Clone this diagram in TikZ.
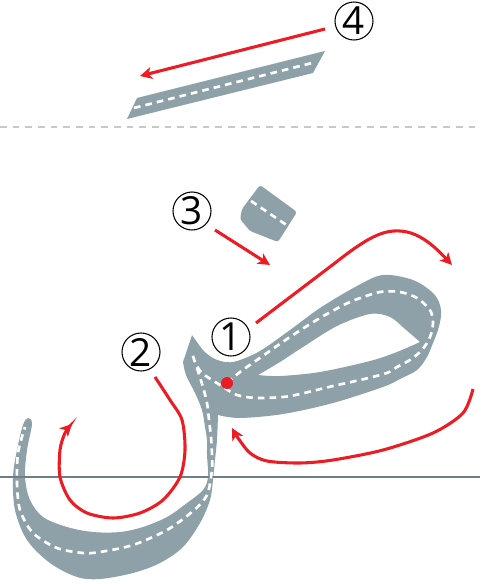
\documentclass[tikz,border=0pt]{standalone}
\usepackage{fontspec}
\setsansfont{Open Sans}
\usetikzlibrary{arrows.meta}
\definecolor{glyph}{HTML}{8FA1A8}
\definecolor{baseln}{HTML}{6E7F87}
\definecolor{lightdash}{HTML}{C8C8C8}
\definecolor{redc}{HTML}{ED1C24}
\begin{document}
\begin{tikzpicture}[x=0.75pt,y=-0.75pt,
  redarrow/.style={draw=redc, line width=2.3pt, -{Stealth[length=9pt,width=9pt,inset=2.5pt]}},
  guide/.style={draw=white, line width=2pt, dash pattern=on 5pt off 3.8pt},
  num/.style={circle, draw=black, line width=0.8pt, minimum size=28.5pt, inner sep=0pt,
    font=\sffamily\fontsize{29}{29}\selectfont}]
\useasboundingbox (0,0) rectangle (480,584);

% guide lines
\draw[lightdash, line width=1.1pt, dash pattern=on 5pt off 4.5pt] (0,127) -- (480,127);

% stroke 4
\fill[glyph] (127,119) -- (137,98) -- (325,51) -- (313,73) -- cycle;
\draw[guide] (134,108) -- (316,62);

% stroke 3
\fill[glyph, rounded corners=2pt] (260,185) -- (297,212) -- (278,242) -- (250,231) -- (240,219) -- (242,209) -- cycle;
\draw[guide] (251,201) -- (288,226);

% main body with hole
\fill[glyph, even odd rule]
 plot[smooth, tension=0.55] coordinates {(192,335) (203,350) (213,358) (225,362) (237,361) (260,351) (290,330) (320,308) (357,286) (383,275) (413,280) (433,293) (440,305) (441,316) (438,330) (433,343) (427,357) (417,370) (400,379) (383,387) (333,403) (283,414) (240,418) (218,415)}
 -- plot[smooth, tension=0.55] coordinates {(218,415) (217,440) (215,460) (213,480) (210,500) (200,523) (183,547) (160,563) (133,573) (100,579) (77,577) (50,563) (27,540) (15,510) (13,477) (17,450) (23,425) (28,418) (32,424) (27,450) (25,477) (30,500) (43,517) (67,527) (93,532) (120,532) (143,527) (167,517) (187,503) (203,490) (208,477) (207,455) (207,440) (205,427) (202,410) (195,393) (186,375) (183,362)}
 -- cycle
 plot[smooth, tension=0.55] coordinates {(258,375) (280,362) (303,347) (337,326) (370,314) (390,317) (405,329) (420,342)}
 -- plot[smooth, tension=0.55] coordinates {(420,342) (397,352) (370,361) (320,372) (280,376) (258,375)}
 -- cycle;

% baseline
\draw[baseln, line width=1.6pt] (0,477) -- (480,477);

% centre guides
\draw[guide] plot[smooth] coordinates {(227,383) (240,372) (257,360) (290,337) (320,318) (350,302) (380,292) (400,292) (417,298) (430,310) (433,323) (430,337) (422,350) (410,360) (397,367) (387,373) (360,380) (333,386) (300,394) (283,397) (257,398) (237,395) (220,385) (202,373) (195,362) (192,352)};
\draw[guide] plot[smooth] coordinates {(197,368) (203,387) (207,403) (209,420) (211,437) (212,455) (212,470) (207,495) (193,511) (167,530) (133,545) (100,552) (83,553) (57,548) (33,533) (20,510) (17,483) (18,453) (25,427)};

% numbers
\node[num] (n4) at (354,21) {4};
\node[num] (n3) at (192,211) {3};
\node[num] (n1) at (231,337) {1};
\node[num] (n2) at (141,352) {2};

% arrow endpoints
\coordinate (a4s) at (325,29);
\coordinate (a4e) at (140,76);
\coordinate (a3s) at (215,230);
\coordinate (a3e) at (270,265);
\coordinate (a1s) at (256,323);
\coordinate (a1e) at (452,265);

% red arrows
\draw[redarrow] (a4s) -- (a4e);
\draw[redarrow] (a3s) -- (a3e);
\draw[redarrow] (a1s) -- (335,263) .. controls (368,237) and (383,230) .. (400,231) .. controls (420,232) and (436,248) .. (a1e);
\draw[redarrow] plot[smooth] coordinates {(155,377) (170,400) (182,420) (185,450) (180,477) (163,500) (140,513) (113,518) (87,513) (70,500) (60,477) (60,450) (65,433) (72,424)};
\draw[redarrow] plot[smooth] coordinates {(473,389) (463,413) (433,433) (383,450) (333,460) (300,463) (267,461) (250,453) (238,438) (232,428)};

% start dot
\fill[redc] (227,383) circle[radius=4.5pt];
\end{tikzpicture}
\end{document}
